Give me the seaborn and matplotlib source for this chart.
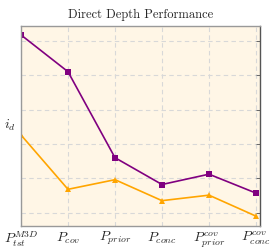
import matplotlib
matplotlib.use("Agg")
import matplotlib.pyplot as plt
import seaborn as sns
import pandas as pd

categories = [r"$P_{tst}^{M3D}$", r"$P_{cov}$", r"$P_{prior}$", r"$P_{conc}$",
              r"$P_{prior}^{cov}$", r"$P_{conc}^{cov}$"]
series_a = [6.17, 5.10, 2.60, 1.82, 2.12, 1.57]   # purple squares
series_b = [3.26, 1.68, 1.96, 1.35, 1.51, 0.90]   # orange triangles
series_names = ["A", "B"]

sns.set_theme(style="white")
plt.rcParams["mathtext.fontset"] = "cm"
plt.rcParams["font.family"] = ["cmr10", "DejaVu Serif"]
plt.rcParams["axes.formatter.use_mathtext"] = True

rows = []
for i, c in enumerate(categories):
    rows.append({"x": i, "y": series_a[i], "s": series_names[0]})
    rows.append({"x": i, "y": series_b[i], "s": series_names[1]})
df = pd.DataFrame(rows)

fig = plt.figure(figsize=(2.74, 2.48), dpi=100)
ax = fig.add_axes([21/274, 22/248, (259.5-21)/274, (226-26)/248])
ax.set_facecolor("#FFF6E6")

sns.lineplot(data=df, x="x", y="y", hue="s", style="s",
             palette={"A": "#800080", "B": "#FFA500"},
             markers={"A": "s", "B": "^"}, dashes=False,
             linewidth=1.2, markersize=4.5, markeredgewidth=0,
             legend=False, ax=ax)

ax.set_xlim(0, 5.075)
ax.set_ylim(0.613, 6.43)
ax.set_xticks(range(len(categories)))
ax.set_xticklabels(categories, fontsize=10)
ax.set_yticks([1, 2, 3, 4, 5, 6])
ax.tick_params(axis="y", which="both", direction="in", left=False, right=True,
               labelleft=False, length=3, width=0.6, color="#555555")
ax.tick_params(axis="x", direction="in", length=0, pad=3)
ax.grid(True, color="#D8D8D8", linestyle=(0, (4, 3)), linewidth=0.8)
ax.set_axisbelow(True)
for side in ["left", "top", "bottom"]:
    ax.spines[side].set_color("#999999")
    ax.spines[side].set_linewidth(1.0)
ax.spines["right"].set_color("#555555")
ax.spines["right"].set_linewidth(1.0)
ax.set_xlabel("")
ax.set_ylabel(r"$i_d$", rotation=0, fontsize=10, va="center", ha="center")
ax.yaxis.set_label_coords(-0.045, 0.505)
ax.set_title("Direct Depth Performance", fontsize=9, pad=6)

fig.savefig("out.png", dpi=100)
